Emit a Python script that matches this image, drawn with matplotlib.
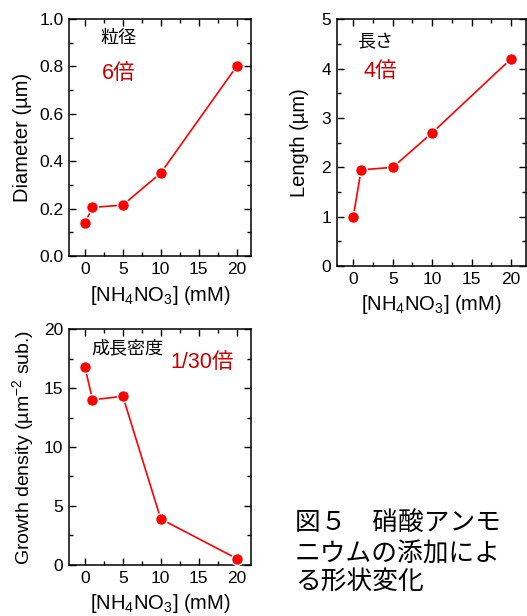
import matplotlib
matplotlib.use("Agg")
import matplotlib.pyplot as plt
from matplotlib.ticker import MultipleLocator

plt.rcParams['font.family'] = ['Liberation Sans', 'Noto Sans CJK JP', 'DejaVu Sans']
plt.rcParams['mathtext.default'] = 'regular'

conc = [0, 1, 5, 10, 20]
diameter = [0.14, 0.205, 0.215, 0.35, 0.80]
length = [1.0, 1.95, 2.0, 2.7, 4.2]
density = [16.8, 14.0, 14.3, 3.9, 0.55]

xlabel = "[NH$_4$NO$_3$] (mM)"
xticks = [0, 5, 10, 15, 20]

RED = '#ff0000'
DARKRED = '#c80000'
JP = ['Noto Sans CJK JP', 'DejaVu Sans']
MIX = ['Liberation Sans', 'Noto Sans CJK JP']

fig = plt.figure(figsize=(5.27, 6.16), dpi=100)

def style(ax, ymaj, ymin):
    ax.set_xlim(-2.1, 21.9)
    ax.set_xticks(xticks)
    ax.xaxis.set_minor_locator(MultipleLocator(2.5))
    ax.yaxis.set_major_locator(MultipleLocator(ymaj))
    ax.yaxis.set_minor_locator(MultipleLocator(ymin))
    ax.tick_params(which='both', direction='in', top=True, right=True, width=1.0, labelsize=12.5)
    ax.tick_params(which='major', length=5, pad=4)
    ax.tick_params(which='minor', length=3)
    for s in ax.spines.values():
        s.set_linewidth(1.1)
    ax.set_xlabel(xlabel, fontsize=14.5, labelpad=5)

def plotdata(ax, y):
    ax.plot(conc, y, '-o', color=RED, lw=1.2, ms=8.5, mfc=RED, mec='white', mew=1.0, clip_on=False, zorder=3)

# top-left: diameter
ax1 = fig.add_axes([0.1309, 0.5844, 0.3454, 0.3847])
plotdata(ax1, diameter)
ax1.set_ylim(0, 1.0)
style(ax1, 0.2, 0.1)
ax1.yaxis.set_major_formatter(matplotlib.ticker.FormatStrFormatter('%.1f'))
ax1.set_ylabel("Diameter (µm)", fontsize=14.5, labelpad=5)
ax1.text(0.27, 0.92, "粒径", transform=ax1.transAxes, ha='center', va='center', fontsize=13, family=JP)
ax1.text(0.27, 0.772, "6倍", transform=ax1.transAxes, ha='center', va='center', fontsize=15.5, color=DARKRED, family=MIX)

# top-right: length
ax2 = fig.add_axes([0.6389, 0.5682, 0.3592, 0.4003])
plotdata(ax2, length)
ax2.set_ylim(0, 5)
style(ax2, 1, 0.5)
ax2.set_ylabel("Length (µm)", fontsize=14.5, labelpad=9)
ax2.text(0.20, 0.909, "長さ", transform=ax2.transAxes, ha='center', va='center', fontsize=13, family=JP)
ax2.text(0.23, 0.787, "4倍", transform=ax2.transAxes, ha='center', va='center', fontsize=15.5, color=DARKRED, family=MIX)

# bottom-left: growth density
ax3 = fig.add_axes([0.1309, 0.0828, 0.3454, 0.3831])
plotdata(ax3, density)
ax3.set_ylim(0, 20)
style(ax3, 5, 2.5)
ax3.set_ylabel("Growth density (µm$^{-2}$ sub.)", fontsize=14, labelpad=6)
ax3.text(0.32, 0.919, "成長密度", transform=ax3.transAxes, ha='center', va='center', fontsize=13, family=JP)
ax3.text(0.73, 0.856, "1/30倍", transform=ax3.transAxes, ha='center', va='center', fontsize=15.5, color=DARKRED, family=MIX)

# caption
caption = ["図５　硝酸アンモ", "ニウムの添加によ", "る形状変化"]
ys = [523, 555, 582]
for line, yp in zip(caption, ys):
    fig.text(295 / 527, 1 - yp / 616, line, ha='left', va='center', fontsize=18.5, family=JP)

fig.savefig("out.png", dpi=100)
